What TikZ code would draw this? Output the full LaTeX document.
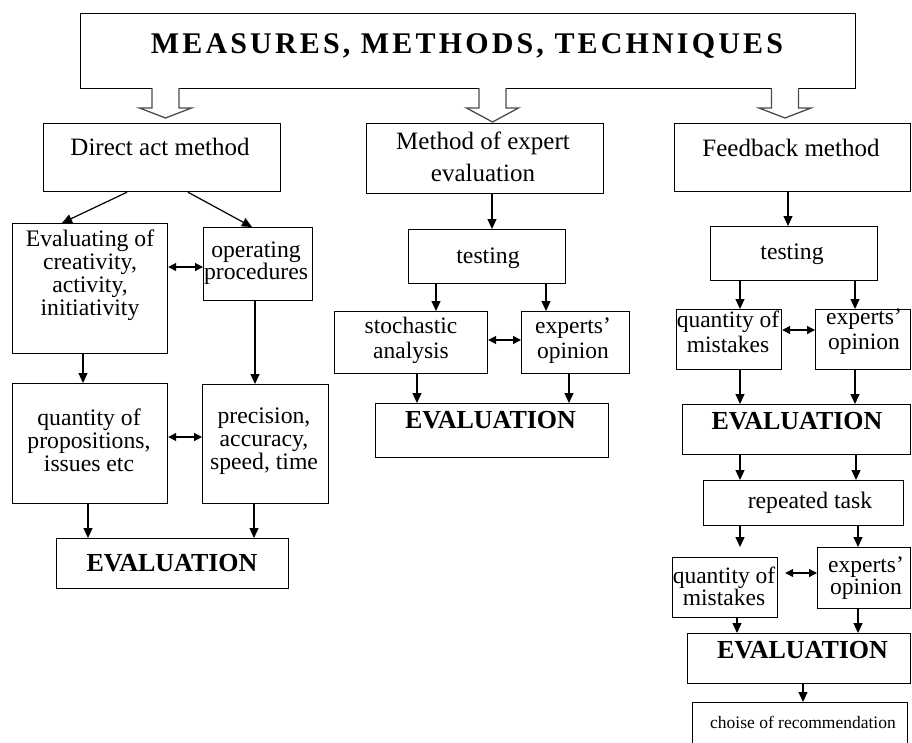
\documentclass[tikz,border=0pt]{standalone}
\usepackage{fontspec}
\setmainfont{Liberation Serif}
\usetikzlibrary{arrows.meta}
\newcommand\hdfont{\fontsize{25}{32}\selectfont}
\newcommand\evfont{\fontsize{26}{26}\selectfont\bfseries}
\begin{document}
\begin{tikzpicture}[x=1pt,y=-1pt,
  box/.style={draw, line width=1.2pt, anchor=north west, inner sep=0pt},
  txt/.style={inner sep=0pt, align=center, font=\fontsize{23.7}{23}\selectfont},
  txtb/.style={inner sep=0pt, align=center, font=\fontsize{23.5}{25}\selectfont},
  txtc/.style={inner sep=0pt, align=center, font=\fontsize{23.5}{22}\selectfont},
  hd/.style={inner sep=0pt, align=center, font=\hdfont},
  ev/.style={inner sep=0pt, align=center, font=\evfont},
  arr/.style={-{Triangle[length=10pt,width=9pt]}, line width=1.2pt},
  darr/.style={{Triangle[length=8pt,width=8pt]}-{Triangle[length=8pt,width=8pt]}, line width=1.2pt},
  hollow/.style={draw=black!70, line width=1.3pt, fill=white, line join=miter}]
\useasboundingbox (0,0) rectangle (912,742);
\clip (0,0) rectangle (912,742);
\fill[white] (0,0) rectangle (912,742);

% ---------- boxes ----------
\node[box, minimum width=775pt, minimum height=75pt] (title) at (80,13) {};
\node[box, minimum width=237pt, minimum height=68pt] (dam) at (43,123) {};
\node[box, minimum width=237pt, minimum height=70pt] (moe) at (366,123) {};
\node[box, minimum width=236pt, minimum height=68pt] (fbm) at (674,123) {};
% left column
\node[box, minimum width=155pt, minimum height=130pt] (eval) at (12,223) {};
\node[box, minimum width=109pt, minimum height=73pt] (opp) at (203,227) {};
\node[box, minimum width=155pt, minimum height=120pt] (qp) at (12,383) {};
\node[box, minimum width=126pt, minimum height=119pt] (pas) at (202,384) {};
\node[box, minimum width=232pt, minimum height=50pt] (ev1) at (56,538) {};
% middle column
\node[box, minimum width=157pt, minimum height=54pt] (test1) at (408,229) {};
\node[box, minimum width=153pt, minimum height=62pt] (sa) at (334,311) {};
\node[box, minimum width=108pt, minimum height=62pt] (eo1) at (521,311) {};
\node[box, minimum width=233pt, minimum height=54pt] (ev2) at (375,403) {};
% right column
\node[box, minimum width=167pt, minimum height=54pt] (test2) at (710,226) {};
\node[box, minimum width=105pt, minimum height=60pt] (qm1) at (676,309) {};
\node[box, minimum width=95pt, minimum height=60pt] (eo2) at (815,309) {};
\node[box, minimum width=228pt, minimum height=50pt] (ev3) at (682,404) {};
\node[box, minimum width=200pt, minimum height=45pt] (rt) at (703,480) {};
\node[box, minimum width=105pt, minimum height=60pt] (qm2) at (672,557) {};
\node[box, minimum width=93pt, minimum height=61pt] (eo3) at (817,547) {};
\node[box, minimum width=223pt, minimum height=50pt] (ev4) at (687,633) {};
\node[box, minimum width=215pt, minimum height=60pt] (cr) at (692,702) {};

% ---------- texts ----------
\node[inner sep=0pt, anchor=base, font=\fontsize{30}{30}\selectfont\bfseries\addfontfeatures{LetterSpace=10.5}] (t-title) at (467,53) {MEASURES, METHODS, TECHNIQUES};
\node[hd] (t-dam) at (160,147) {Direct act method};
\node[hd] (t-moe) at (483,157) {Method of expert\\evaluation};
\node[hd] (t-fbm) at (791,148) {Feedback method};
\node[txt] (t-eval) at (90,275) {Evaluating of\\creativity,\\activity,\\initiativity};
\node[txt, font=\fontsize{23.7}{20}\selectfont] (t-opp) at (256,263) {operating\\procedures};
\node[txt] (t-qp) at (89,440) {quantity of\\propositions,\\issues etc};
\node[txt] (t-pas) at (264,441) {precision,\\accuracy,\\speed, time};
\node[ev] (t-ev1) at (172,563) {EVALUATION};
\node[txt] (t-test1) at (488,258) {testing};
\node[txtb] (t-sa) at (411,340.5) {stochastic\\analysis};
\node[txtb] (t-eo1) at (573,340.5) {experts’\\opinion};
\node[ev] (t-ev2) at (490.5,420) {EVALUATION};
\node[txt] (t-test2) at (792,254) {testing};
\node[txtb] (t-qm1) at (728,332) {quantity of\\mistakes};
\node[txtb] (t-eo2) at (864,332) {experts’\\opinion};
\node[ev] (t-ev3) at (797,421.5) {EVALUATION};
\node[txt] (t-rt) at (810,503) {repeated task};
\node[txtc] (t-qm2) at (724,586) {quantity of\\mistakes};
\node[txtc] (t-eo3) at (866,578) {experts’\\opinion};
\node[ev] (t-ev4) at (802.5,650) {EVALUATION};
\node[inner sep=0pt, font=\fontsize{17.5}{17.5}\selectfont] (t-cr) at (803,722) {choise of recommendation};

% ---------- hollow arrows ----------
\foreach \cx/\tip in {165.5/118, 492.5/122, 785/118}
  \draw[hollow] (\cx-13.5,88) -- (\cx-13.5,108) -- (\cx-26,108) -- (\cx,\tip)
     -- (\cx+26,108) -- (\cx+13.5,108) -- (\cx+13.5,88);

% ---------- connectors: left ----------
\draw[arr] ([xshift=84pt]dam.south west) -- ([xshift=50pt]eval.north west);
\draw[arr] ([xshift=145pt]dam.south west) -- ([xshift=49pt]opp.north west);
\draw[darr] ([yshift=-44pt]eval.north east) -- ([yshift=-40pt]opp.north west);
\draw[arr] ([xshift=71pt]eval.south west) -- ([xshift=71pt]qp.north west);
\draw[arr] ([xshift=52pt]opp.south west) -- ([xshift=53pt]pas.north west);
\draw[darr] ([yshift=-54pt]qp.north east) -- ([yshift=-53pt]pas.north west);
\draw[arr] ([xshift=76pt]qp.south west) -- ([xshift=32pt]ev1.north west);
\draw[arr] ([xshift=52pt]pas.south west) -- ([xshift=198pt]ev1.north west);

% ---------- connectors: middle ----------
\draw[arr] ([xshift=126pt]moe.south west) -- ([xshift=84pt]test1.north west);
\draw[arr] ([xshift=28pt]test1.south west) -- ([xshift=102pt]sa.north west);
\draw[arr] ([xshift=138pt]test1.south west) -- ([xshift=25pt]eo1.north west);
\draw[darr] ([yshift=-29pt]sa.north east) -- ([yshift=-29pt]eo1.north west);
\draw[arr] ([xshift=83pt]sa.south west) -- ([xshift=42pt]ev2.north west);
\draw[arr] ([xshift=48pt]eo1.south west) -- ([xshift=194pt]ev2.north west);

% ---------- connectors: right ----------
\draw[arr] ([xshift=114pt]fbm.south west) -- ([xshift=78pt]test2.north west);
\draw[arr] ([xshift=30pt]test2.south west) -- ([xshift=64pt]qm1.north west);
\draw[arr] ([xshift=145pt]test2.south west) -- ([xshift=40pt]eo2.north west);
\draw[darr] ([yshift=-21pt]qm1.north east) -- ([yshift=-21pt]eo2.north west);
\draw[arr] ([xshift=64pt]qm1.south west) -- ([xshift=58pt]ev3.north west);
\draw[arr] ([xshift=40pt]eo2.south west) -- ([xshift=173pt]ev3.north west);
\draw[arr] ([xshift=58pt]ev3.south west) -- ([xshift=37pt]rt.north west);
\draw[arr] ([xshift=174pt]ev3.south west) -- ([xshift=153pt]rt.north west);
\draw[arr, shorten >=10pt] ([xshift=37pt]rt.south west) -- ([xshift=68pt]qm2.north west);
\draw[arr] ([xshift=155pt]rt.south west) -- ([xshift=41pt]eo3.north west);
\draw[darr, shorten <=7pt] ([yshift=-16pt]qm2.north east) -- ([yshift=-26pt]eo3.north west);
\draw[arr] ([xshift=65pt]qm2.south west) -- ([xshift=50pt]ev4.north west);
\draw[arr] ([xshift=41pt]eo3.south west) -- ([xshift=171pt]ev4.north west);
\draw[arr] ([xshift=116pt]ev4.south west) -- ([xshift=111pt]cr.north west);
\end{tikzpicture}
\end{document}
